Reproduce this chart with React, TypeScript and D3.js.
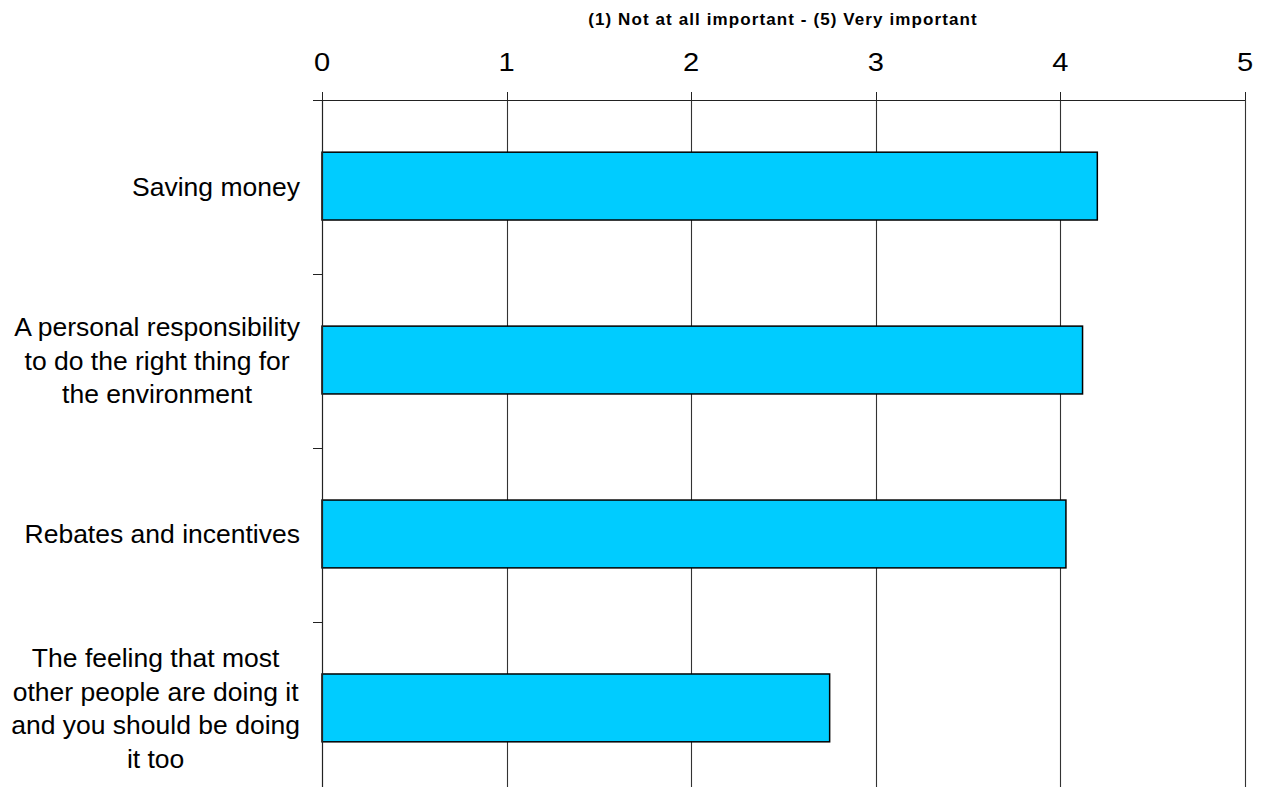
import React, { useEffect, useRef } from "react";
import * as d3 from "d3";

const categories: string[][] = [
  ["Saving money"],
  ["A personal responsibility", "to do the right thing for", "the environment"],
  ["Rebates and incentives"],
  ["The feeling that most", "other people are doing it", "and you should be doing", "it too"],
];
const values: number[] = [4.2, 4.12, 4.03, 2.75];
const xTicks: number[] = [0, 1, 2, 3, 4, 5];
const axisTitle = "(1) Not at all important - (5) Very important";

const W = 1261;
const H = 787;

export default function App() {
  const ref = useRef<SVGSVGElement | null>(null);

  useEffect(() => {
    const svg = d3.select(ref.current);
    svg.selectAll("*").remove();

    const x = d3.scaleLinear().domain([0, 5]).range([322, 1245]);
    const ids = categories.map((_, i) => String(i));
    const y = d3
      .scaleBand<string>()
      .domain(ids)
      .range([100, 794])
      .paddingInner(0.61)
      .paddingOuter(0.3);
    const step = y.step();
    const top = 100;
    const bottom = 794;

    // gridlines
    svg
      .append("g")
      .selectAll("line")
      .data(xTicks.filter((t) => t > 0))
      .join("line")
      .attr("x1", (d) => Math.round(x(d)) + 0.5)
      .attr("x2", (d) => Math.round(x(d)) + 0.5)
      .attr("y1", top)
      .attr("y2", bottom)
      .attr("stroke", "#333")
      .attr("stroke-width", 1.1);

    // bars
    svg
      .append("g")
      .selectAll("rect")
      .data(values)
      .join("rect")
      .attr("x", x(0))
      .attr("y", (_, i) => y(String(i))!)
      .attr("width", (d) => x(d) - x(0))
      .attr("height", y.bandwidth())
      .attr("fill", "#00CCFF")
      .attr("stroke", "#000")
      .attr("stroke-width", 1.5);

    // top axis line
    const ax = svg.append("g");
    ax.append("line")
      .attr("x1", x(0) - 9)
      .attr("x2", x(5))
      .attr("y1", top + 0.5)
      .attr("y2", top + 0.5)
      .attr("stroke", "#222")
      .attr("stroke-width", 1.2);
    ax.selectAll("line.tick")
      .data(xTicks)
      .join("line")
      .attr("class", "tick")
      .attr("x1", (d) => Math.round(x(d)) + 0.5)
      .attr("x2", (d) => Math.round(x(d)) + 0.5)
      .attr("y1", top - 8)
      .attr("y2", top)
      .attr("stroke", "#222");
    ax.selectAll("text")
      .data(xTicks)
      .join("text")
      .attr("transform", (d) => `translate(${x(d)},71) scale(1.12,1)`)
      .attr("text-anchor", "middle")
      .attr("font-family", "Liberation Sans, Arial, sans-serif")
      .attr("font-size", 26)
      .attr("fill", "#000")
      .text((d) => String(d));

    // left axis
    const ay = svg.append("g");
    ay.append("line")
      .attr("x1", Math.round(x(0)) + 0.5)
      .attr("x2", Math.round(x(0)) + 0.5)
      .attr("y1", top)
      .attr("y2", bottom)
      .attr("stroke", "#222")
      .attr("stroke-width", 1.2);
    const bounds = d3.range(1, categories.length).map((k) => top + k * step);
    ay.selectAll("line.tick")
      .data(bounds)
      .join("line")
      .attr("class", "tick")
      .attr("x1", x(0) - 9)
      .attr("x2", x(0))
      .attr("y1", (d) => Math.round(d) + 0.5)
      .attr("y2", (d) => Math.round(d) + 0.5)
      .attr("stroke", "#222");

    // category labels
    const lineH = 33.8;
    categories.forEach((lines, i) => {
      const cy = (y(String(i)) as number) + y.bandwidth() / 2;
      const g = svg.append("g");
      const texts = g
        .selectAll("text")
        .data(lines)
        .join("text")
        .attr("text-anchor", "middle")
        .attr("font-family", "Liberation Sans, Arial, sans-serif")
        .attr("font-size", 26.5)
        .attr("fill", "#000")
        .attr("y", (_, j) => cy + (j - (lines.length - 1) / 2) * lineH + 9.5)
        .text((d) => d);
      let maxW = 0;
      texts.each(function () {
        const w = (this as SVGTextElement).getComputedTextLength();
        if (w > maxW) maxW = w;
      });
      texts.attr("x", 300 - maxW / 2);
    });

    // axis title
    svg
      .append("text")
      .attr("x", 783)
      .attr("y", 25)
      .attr("text-anchor", "middle")
      .attr("font-family", "Liberation Sans, Arial, sans-serif")
      .attr("font-size", 17)
      .attr("font-weight", "bold")
      .attr("letter-spacing", 1.1)
      .attr("fill", "#000")
      .text(axisTitle);
  }, []);

  return (
    <div style={{ position: "absolute", left: 0, top: 0, width: W, height: H, background: "#fff" }}>
      <svg ref={ref} width={W} height={H} style={{ display: "block" }} />
    </div>
  );
}
